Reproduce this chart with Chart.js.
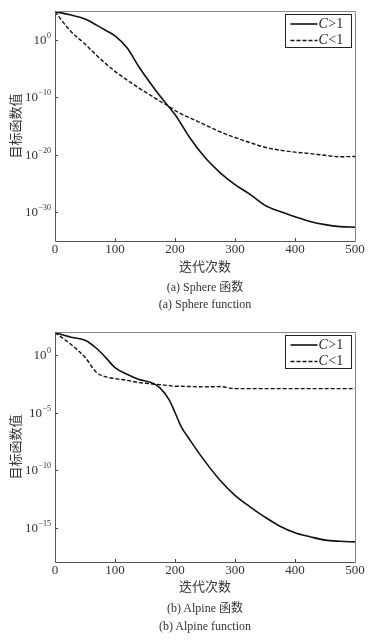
<!DOCTYPE html>
<html>
<head>
<meta charset="utf-8">
<script src="https://cdn.jsdelivr.net/npm/chart.js@4.4.0/dist/chart.umd.min.js"></script>
<style>
  body { margin: 0; background: #fff; width: 379px; height: 640px; position: relative; overflow: hidden;
         font-family: 'Liberation Serif', 'Noto Sans CJK SC', serif; color: #333; }
  .plot { position: absolute; left: 0; width: 379px; height: 260px; }
  .txt { position: absolute; width: 240px; text-align: center; line-height: 16px; white-space: nowrap; }
  .ytitle { position: absolute; width: 120px; height: 16px; line-height: 16px; text-align: center;
            transform: rotate(-90deg); font-size: 13px; }
</style>
</head>
<body>
<div class="plot" style="top:0"><canvas id="sphere"></canvas></div>
<div class="ytitle" style="left:-44px; top:118px">目标函数值</div>
<div class="txt" style="left:85px; top:259px; font-size:13px">迭代次数</div>
<div class="txt" style="left:85px; top:279px; font-size:12px">(a) Sphere 函数</div>
<div class="txt" style="left:85px; top:296px; font-size:12px">(a) Sphere function</div>

<div class="plot" style="top:321px"><canvas id="alpine"></canvas></div>
<div class="ytitle" style="left:-44px; top:439px">目标函数值</div>
<div class="txt" style="left:85px; top:579px; font-size:13px">迭代次数</div>
<div class="txt" style="left:85px; top:600px; font-size:12px">(b) Alpine 函数</div>
<div class="txt" style="left:85px; top:618px; font-size:12px">(b) Alpine function</div>

<script>
// 迭代次数 (x)
const iterations = [0, 25, 50, 70, 85, 100, 120, 140, 160, 175, 190, 200, 210, 225, 250, 275, 300, 325, 350, 375, 400, 425, 450, 475, 500];

// Sphere 函数
const sphereCgt1 = [7.9e4, 2.2e4, 4e3, 3.2e2, 40, 4.5, 0.04, 1.8e-5, 2e-8, 1.6e-10, 2e-12, 1e-13, 2.5e-15, 8e-18,
    3.2e-21, 8e-24, 6.3e-26, 1.3e-27, 1.6e-29, 1.3e-30, 1.6e-31, 2.5e-32, 7e-33, 3.2e-33, 2.5e-33];
const sphereClt1 = [7.9e4, 40, 0.18, 1.6e-3, 6.3e-5, 3.2e-6, 1e-7, 4e-9, 2e-10, 2e-11, 2.5e-12, 5e-13, 1.3e-13, 2.5e-14,
    1.6e-15, 1e-16, 1e-17, 1.3e-18, 2e-19, 6.3e-20, 2.8e-20, 1.6e-20, 8e-21, 4.5e-21, 5e-21];

// Alpine 函数
const alpineCgt1 = [89, 37, 19, 3.5, 0.56, 0.08, 0.021, 7.4e-3, 4e-3, 1.4e-3, 1.3e-4, 1e-5, 6.3e-7, 4e-8,
    5.6e-10, 1.3e-11, 6.3e-13, 6.3e-14, 8e-15, 1.3e-15, 3.5e-16, 1.6e-16, 8e-17, 6.3e-17, 5.6e-17];
const alpineClt1 = [89, 9.8, 0.63, 0.028, 0.0126, 8.9e-3, 6.3e-3, 4e-3, 3.2e-3, 2.6e-3, 2.2e-3, 1.9e-3, 1.9e-3, 1.8e-3,
    1.7e-3, 1.8e-3, 1.2e-3, 1.2e-3, 1.2e-3, 1.2e-3, 1.2e-3, 1.2e-3, 1.2e-3, 1.2e-3, 1.2e-3];

const legendLabels = ['C>1', 'C<1'];
const xTicks = [0, 100, 200, 300, 400, 500];
const sphereYTicks = [1e0, 1e-10, 1e-20, 1e-30];
const alpineYTicks = [1e0, 1e-5, 1e-10, 1e-15];

Chart.defaults.font.family = "'Liberation Serif', 'Noto Sans CJK SC', serif";
Chart.defaults.color = '#333';

// 边框, 内刻度, y 轴 10^n 标签, 图例
const frame = {
    id: 'frame',
    afterDraw(chart) {
        const { ctx, chartArea: a, scales } = chart;
        ctx.save();
        ctx.lineWidth = 1;
        ctx.strokeStyle = '#444';
        scales.x.ticks.forEach(t => {
            const px = Math.round(scales.x.getPixelForValue(t.value)) + 0.5;
            ctx.beginPath(); ctx.moveTo(px, a.bottom); ctx.lineTo(px, a.bottom - 3); ctx.stroke();
        });
        scales.y.ticks.forEach(t => {
            const py = Math.round(scales.y.getPixelForValue(t.value)) + 0.5;
            ctx.beginPath(); ctx.moveTo(a.left, py); ctx.lineTo(a.left + 3, py); ctx.stroke();
            // label 10^e
            const e = Math.round(Math.log10(t.value));
            const expText = e < 0 ? '\u2212' + (-e) : String(e);
            ctx.fillStyle = '#333';
            ctx.textAlign = 'right';
            ctx.textBaseline = 'middle';
            ctx.font = "8px 'Liberation Serif'";
            const ew = ctx.measureText(expText).width;
            const ex = a.left - 4;
            ctx.fillText(expText, ex, py - 5);
            ctx.font = "13px 'Liberation Serif'";
            ctx.fillText('10', ex - ew - 0.5, py);
        });
        const l = Math.round(a.left) + 0.5, r = Math.round(a.right) + 0.5;
        const t = Math.round(a.top) + 0.5, b = Math.round(a.bottom) + 0.5;
        ctx.strokeStyle = '#888';
        ctx.beginPath(); ctx.moveTo(l, t); ctx.lineTo(r, t); ctx.lineTo(r, b); ctx.stroke();
        ctx.strokeStyle = '#555';
        ctx.beginPath(); ctx.moveTo(l, t); ctx.lineTo(l, b); ctx.lineTo(r, b); ctx.stroke();

        // legend box
        ctx.textAlign = 'left';
        const bx = Math.round(a.right) - 70 + 0.5, by = Math.round(a.top) + 3 + 0.5, bw = 66, bh = 33;
        ctx.fillStyle = '#fff';
        ctx.fillRect(bx, by, bw, bh);
        ctx.strokeStyle = '#222';
        ctx.strokeRect(bx, by, bw, bh);
        chart.data.datasets.forEach((ds, i) => {
            const yy = by + 9.5 + i * 16.5;
            ctx.strokeStyle = ds.borderColor;
            ctx.lineWidth = ds.borderWidth;
            ctx.setLineDash(ds.borderDash || []);
            ctx.beginPath(); ctx.moveTo(bx + 5, yy); ctx.lineTo(bx + 32, yy); ctx.stroke();
            ctx.setLineDash([]);
            ctx.fillStyle = '#222';
            ctx.textBaseline = 'middle';
            ctx.font = "italic 14px 'Liberation Serif'";
            ctx.fillText(ds.label[0], bx + 33, yy);
            const w = ctx.measureText(ds.label[0]).width;
            ctx.font = "14px 'Liberation Serif'";
            ctx.fillText(ds.label.slice(1), bx + 33 + w + 0.5, yy);
        });
        ctx.restore();
    }
};

function makeChart(id, solid, dashed, yMin, yMax, yTicks) {
    const toPts = arr => iterations.map((x, i) => ({ x: x, y: arr[i] }));
    return new Chart(document.getElementById(id), {
        type: 'line',
        data: {
            datasets: [
                {
                    label: legendLabels[0],
                    data: toPts(solid),
                    borderColor: '#111',
                    borderWidth: 1.6,
                    pointRadius: 0,
                    fill: false,
                    cubicInterpolationMode: 'monotone'
                },
                {
                    label: legendLabels[1],
                    data: toPts(dashed),
                    borderColor: '#111',
                    borderWidth: 1.4,
                    borderDash: [4, 2],
                    pointRadius: 0,
                    fill: false,
                    cubicInterpolationMode: 'monotone'
                }
            ]
        },
        options: {
            responsive: false,
            animation: false,
            events: [],
            layout: { padding: { top: 11, right: 24, left: 0, bottom: 0 } },
            plugins: { legend: { display: false }, tooltip: { enabled: false } },
            scales: {
                x: {
                    type: 'linear',
                    min: 0,
                    max: 500,
                    afterBuildTicks: s => { s.ticks = xTicks.map(v => ({ value: v })); },
                    afterFit: s => { s.height = 19; },
                    grid: { display: false, drawTicks: false },
                    border: { display: false },
                    ticks: { font: { size: 13 }, color: '#333', padding: 1, maxRotation: 0 }
                },
                y: {
                    type: 'logarithmic',
                    min: yMin,
                    max: yMax,
                    afterBuildTicks: s => { s.ticks = yTicks.map(v => ({ value: v })); },
                    afterFit: s => { s.width = 55; },
                    grid: { display: false, drawTicks: false },
                    border: { display: false },
                    ticks: { display: false }
                }
            }
        },
        plugins: [frame]
    });
}

function sizeCanvas(id) {
    const c = document.getElementById(id);
    c.width = 379; c.height = 260;
    c.style.width = '379px'; c.style.height = '260px';
}
sizeCanvas('sphere');
sizeCanvas('alpine');
makeChart('sphere', sphereCgt1, sphereClt1, 1e-35, 1e5, sphereYTicks);
makeChart('alpine', alpineCgt1, alpineClt1, 1e-18, 1e2, alpineYTicks);
</script>
</body>
</html>
